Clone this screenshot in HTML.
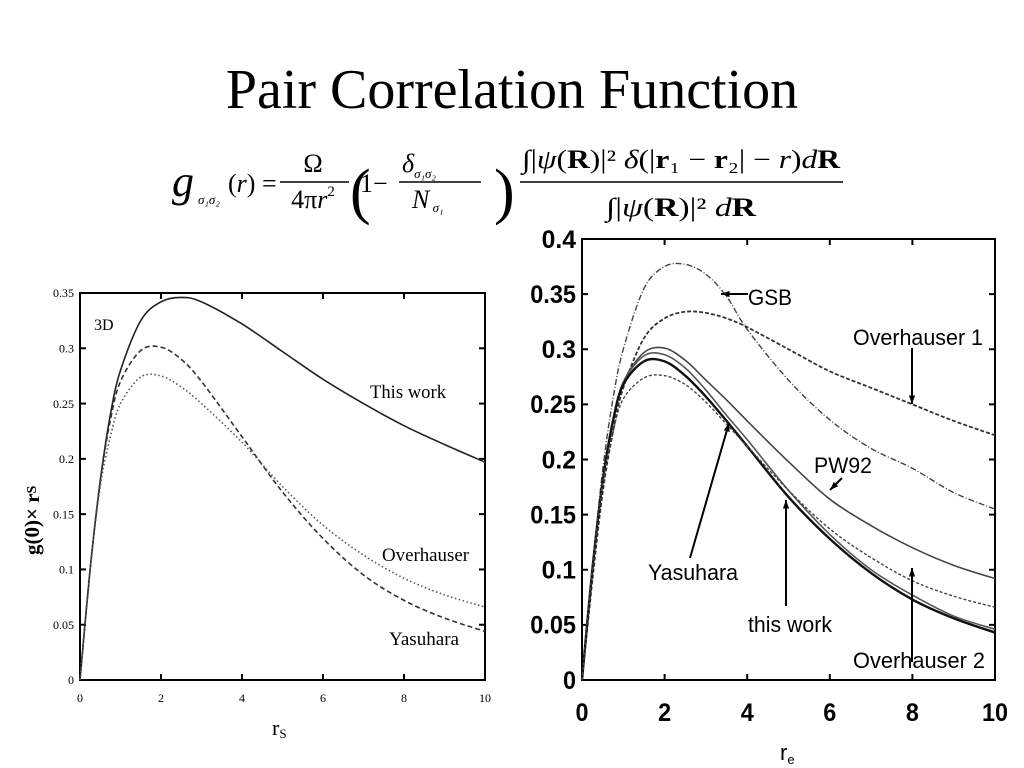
<!DOCTYPE html>
<html><head><meta charset="utf-8"><style>
body{margin:0;background:#fff;width:1024px;height:768px;overflow:hidden;font-family:"Liberation Serif",serif}
svg{position:absolute;left:0;top:0}
</style></head><body>
<svg width="1024" height="768" font-family="Liberation Serif, serif">
<text x="512" y="108" font-size="56" text-anchor="middle">Pair Correlation Function</text>
<g fill="#000" font-family="Liberation Serif, serif">
<text x="172" y="196" font-size="44" font-style="italic">g</text>
<text x="198" y="204" font-size="13" font-style="italic">σ₁σ₂</text>
<text x="228" y="192" font-size="26">(<tspan font-style="italic">r</tspan>) =</text>
<text x="313" y="172" font-size="26" text-anchor="middle">Ω</text>
<line x1="280" y1="182" x2="349" y2="182" stroke="#000" stroke-width="1.5"/>
<text x="313" y="208" font-size="26" text-anchor="middle">4π<tspan font-style="italic">r</tspan><tspan font-size="15" dy="-12">2</tspan></text>
<text x="350" y="212" font-size="62" font-weight="100">(</text>
<text x="360" y="192" font-size="26">1−</text>
<text x="402" y="172" font-size="26" font-style="italic">δ<tspan font-size="13" dy="6">σ₁σ₂</tspan></text>
<line x1="399" y1="182" x2="481" y2="182" stroke="#000" stroke-width="1.5"/>
<text x="412" y="208" font-size="26" font-style="italic">N<tspan font-size="13" dy="4"> σ₁</tspan></text>
<text x="494" y="212" font-size="62" font-weight="100">)</text>
<text x="522" y="168" font-size="26" textLength="318" lengthAdjust="spacingAndGlyphs">∫|<tspan font-style="italic">ψ</tspan>(<tspan font-weight="bold">R</tspan>)|² <tspan font-style="italic">δ</tspan>(|<tspan font-weight="bold">r</tspan>₁ − <tspan font-weight="bold">r</tspan>₂| − <tspan font-style="italic">r</tspan>)<tspan font-style="italic">d</tspan><tspan font-weight="bold">R</tspan></text>
<line x1="520" y1="182" x2="843" y2="182" stroke="#000" stroke-width="1.5"/>
<text x="606" y="216" font-size="26" textLength="150" lengthAdjust="spacingAndGlyphs">∫|<tspan font-style="italic">ψ</tspan>(<tspan font-weight="bold">R</tspan>)|² <tspan font-style="italic">d</tspan><tspan font-weight="bold">R</tspan></text>
</g>
<g id="left"></g>
<g id="right"></g>
</svg>
<script>
const NS="http://www.w3.org/2000/svg";
// Left chart data
const lX=[0,0.25,0.5,0.75,1,1.5,2,2.5,3,4,5,6,7,8,9,10];
const lThisWork=[0,0.1,0.18,0.24,0.28,0.325,0.342,0.346,0.342,0.322,0.297,0.272,0.25,0.23,0.213,0.197];
const lYasuhara=[0,0.1,0.18,0.235,0.27,0.298,0.301,0.29,0.27,0.22,0.17,0.128,0.095,0.072,0.056,0.044];
const lOverhauser=[0,0.1,0.175,0.22,0.25,0.274,0.275,0.265,0.25,0.215,0.175,0.14,0.113,0.092,0.077,0.066];
const lXTicks=[0,2,4,6,8,10];
const lYTicks=["0","0.05","0.1","0.15","0.2","0.25","0.3","0.35"];
// Right chart data
const rX=[0,0.25,0.5,0.75,1,1.5,2,2.5,3,3.5,4,5,6,7,8,9,10];
const rGSB=[0,0.1,0.19,0.255,0.3,0.355,0.375,0.377,0.368,0.348,0.318,0.272,0.236,0.21,0.192,0.17,0.155];
const rOver1=[0,0.09,0.17,0.225,0.265,0.31,0.328,0.334,0.333,0.328,0.32,0.3,0.28,0.265,0.25,0.235,0.222];
const rPW92=[0,0.1,0.18,0.235,0.27,0.297,0.301,0.29,0.272,0.254,0.235,0.198,0.164,0.14,0.12,0.104,0.092];
const rYasuhara=[0,0.1,0.18,0.235,0.27,0.294,0.295,0.283,0.263,0.24,0.218,0.172,0.132,0.1,0.077,0.058,0.046];
const rThisWork=[0,0.1,0.18,0.235,0.268,0.289,0.289,0.276,0.257,0.235,0.212,0.166,0.128,0.097,0.073,0.056,0.043];
const rOver2=[0,0.1,0.178,0.225,0.255,0.274,0.276,0.268,0.252,0.232,0.212,0.172,0.137,0.111,0.09,0.076,0.066];
const rXTicks=[0,2,4,6,8,10];
const rYTicks=["0","0.05","0.1","0.15","0.2","0.25","0.3","0.35","0.4"];

function mk(tag,attrs,parent){const e=document.createElementNS(NS,tag);for(const k in attrs)e.setAttribute(k,attrs[k]);parent.appendChild(e);return e;}
function chart(g,L,R,T,B,ymax,xt,yt,ff,fs,xoff,cw,fw,series){
  const sx=v=>L+(v/10)*(R-L), sy=v=>B-(v/ymax)*(B-T);
  const box=mk("rect",{x:L,y:T,width:R-L,height:B-T,fill:"none",stroke:"#000","stroke-width":2},g);
  
  
  xt.forEach(v=>{
    mk("line",{x1:sx(v),x2:sx(v),y1:B,y2:B-6,stroke:"#000","stroke-width":2},g);
    mk("line",{x1:sx(v),x2:sx(v),y1:T,y2:T+6,stroke:"#000","stroke-width":2},g);
    const s=String(v);
    const t=mk("text",{x:sx(v),y:B+xoff,"text-anchor":"middle","font-size":fs,"font-family":ff,"font-weight":fw},g);t.textContent=s;
    if(cw){t.setAttribute("textLength",s.length*cw);t.setAttribute("lengthAdjust","spacingAndGlyphs");}
    
    
  });
  yt.forEach(s=>{const v=parseFloat(s);
    mk("line",{x1:L,x2:L+6,y1:sy(v),y2:sy(v),stroke:"#000","stroke-width":2},g);
    mk("line",{x1:R,x2:R-6,y1:sy(v),y2:sy(v),stroke:"#000","stroke-width":2},g);
    const t=mk("text",{x:L-6,y:sy(v)+fs*0.35,"text-anchor":"end","font-size":fs,"font-family":ff,"font-weight":fw},g);t.textContent=s;
    if(cw){t.setAttribute("textLength",s.length*cw*(s.length>1?0.88:1));t.setAttribute("lengthAdjust","spacingAndGlyphs");}
    
    
  });
  series.forEach(([xs,ys,dash,w,col,name])=>{
    const P=xs.map((x,i)=>[sx(x),sy(ys[i])]);
    let d="M"+P[0][0]+","+P[0][1];
    for(let i=0;i<P.length-1;i++){const p0=P[i-1]||P[i],p1=P[i],p2=P[i+1],p3=P[i+2]||p2;
      d+=` C${p1[0]+(p2[0]-p0[0])/6},${p1[1]+(p2[1]-p0[1])/6} ${p2[0]-(p3[0]-p1[0])/6},${p2[1]-(p3[1]-p1[1])/6} ${p2[0]},${p2[1]}`;}
    const p=mk("path",{d:d,fill:"none",stroke:col,"stroke-width":w,"stroke-dasharray":dash},g);
    
    
  });
  return {sx,sy};
}
const SER="Liberation Serif, serif",SAN="Liberation Sans, sans-serif";
const lg=document.getElementById("left");
chart(lg,80,485,293,680,0.35,lXTicks,lYTicks,SER,12,22,0,"normal",[
 [lX,lThisWork,"",1.6,"#222","line-this-work"],
 [lX,lYasuhara,"5,3",1.6,"#333","line-yasuhara"],
 [lX,lOverhauser,"1.5,2.5",1.6,"#555","line-overhauser"]]);
function txt(g,x,y,s,fs,ff,name,extra){const t=mk("text",Object.assign({x:x,y:y,"font-size":fs,"font-family":ff},extra||{}),g);t.innerHTML=s;
 
 return t;}
txt(lg,94,330,"3D",16,SER,"panel-label");
txt(lg,370,398,"This work",19,SER,"label-this-work",{textLength:76,lengthAdjust:"spacingAndGlyphs"});
txt(lg,382,561,"Overhauser",19,SER,"label-overhauser",{textLength:87,lengthAdjust:"spacingAndGlyphs"});
txt(lg,389,645,"Yasuhara",19,SER,"label-yasuhara",{textLength:70,lengthAdjust:"spacingAndGlyphs"});
txt(lg,272,735,'r<tspan font-size="13" dy="3">S</tspan>',22,SER,"x-axis-title");
txt(lg,0,0,'g(0)× r<tspan font-size="14" dy="-3">S</tspan>',21,SER,"y-axis-title",{transform:"translate(39,555) rotate(-90)","font-weight":"bold"});

const rg=document.getElementById("right");
chart(rg,582,995,239,680,0.4,rXTicks,rYTicks,SAN,25,41,13,"bold",[
 [rX,rGSB,"6,2,1,2",1.4,"#444","line-gsb"],
 [rX,rOver1,"4,2",1.8,"#333","line-overhauser-1"],
 [rX,rPW92,"",1.6,"#444","line-pw92"],
 [rX,rYasuhara,"",1.6,"#555","line-yasuhara"],
 [rX,rThisWork,"",2.4,"#111","line-this-work"],
 [rX,rOver2,"3,2",1.4,"#444","line-overhauser-2"]]);
function arrow(g,x1,y1,x2,y2,name){const l=mk("line",{x1,y1,x2,y2,stroke:"#000","stroke-width":2},g);
 
 const a=Math.atan2(y2-y1,x2-x1),s=9;
 mk("polygon",{points:`${x2},${y2} ${x2-s*Math.cos(a-0.35)},${y2-s*Math.sin(a-0.35)} ${x2-s*Math.cos(a+0.35)},${y2-s*Math.sin(a+0.35)}`,fill:"#000"},g);}
txt(rg,748,305,"GSB",22,SAN,"label-gsb",{textLength:44,lengthAdjust:"spacingAndGlyphs"});
arrow(rg,748,294,721,294,"arrow-gsb");
txt(rg,853,345,"Overhauser 1",22,SAN,"label-overhauser-1",{textLength:130,lengthAdjust:"spacingAndGlyphs"});
arrow(rg,912,348,912,404,"arrow-overhauser-1");
txt(rg,814,473,"PW92",22,SAN,"label-pw92",{textLength:58,lengthAdjust:"spacingAndGlyphs"});
arrow(rg,842,478,830,490,"arrow-pw92");
txt(rg,648,580,"Yasuhara",22,SAN,"label-yasuhara",{textLength:90,lengthAdjust:"spacingAndGlyphs"});
arrow(rg,690,558,729,423,"arrow-yasuhara");
txt(rg,748,632,"this work",22,SAN,"label-this-work",{textLength:84,lengthAdjust:"spacingAndGlyphs"});
arrow(rg,786,606,786,500,"arrow-this-work");
txt(rg,853,668,"Overhauser 2",22,SAN,"label-overhauser-2",{textLength:132,lengthAdjust:"spacingAndGlyphs"});
arrow(rg,912,662,912,568,"arrow-overhauser-2");
txt(rg,780,760,'r<tspan font-size="13" dy="4">e</tspan>',22,SAN,"x-axis-title");
</script>
</body></html>
